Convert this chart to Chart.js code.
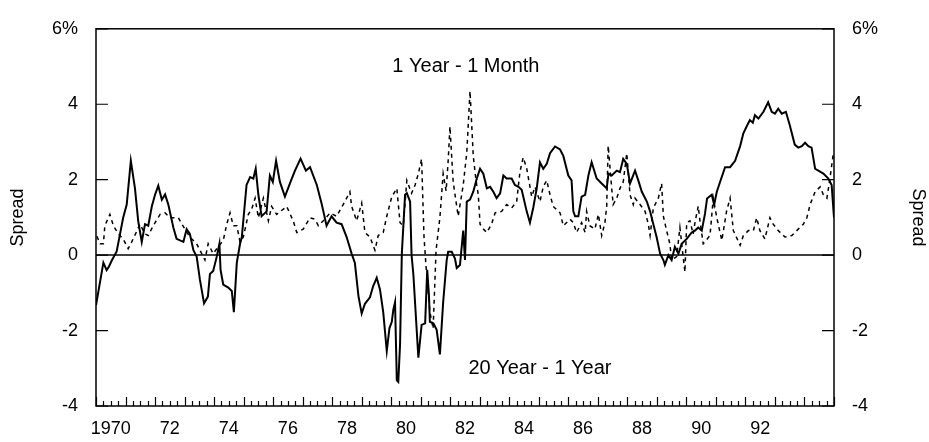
<!DOCTYPE html>
<html>
<head>
<meta charset="utf-8">
<script src="https://cdn.jsdelivr.net/npm/chart.js@4.4.1/dist/chart.umd.min.js"></script>
<style>
  body { margin: 0; background: #fff; }
  canvas { display: block; }
</style>
</head>
<body>
<canvas id="spreadChart" width="929" height="442"></canvas>
<script>
// 20 Year - 1 Year spread (solid)
const longYears = [1970.00,1970.25,1970.36,1970.44,1970.53,1970.70,1970.92,1971.04,1971.18,1971.32,
  1971.43,1971.55,1971.66,1971.77,1971.89,1972.00,1972.11,1972.23,1972.34,1972.45,
  1972.62,1972.73,1972.96,1973.07,1973.18,1973.30,1973.41,1973.52,1973.66,1973.79,
  1973.86,1973.97,1974.09,1974.18,1974.22,1974.31,1974.48,1974.60,1974.67,1974.77,
  1974.88,1974.94,1975.10,1975.22,1975.33,1975.41,1975.50,1975.61,1975.78,1975.89,
  1975.99,1976.10,1976.23,1976.40,1976.57,1976.74,1976.93,1977.11,1977.25,1977.48,
  1977.65,1977.81,1977.98,1978.15,1978.32,1978.49,1978.66,1978.77,1978.89,1979.00,
  1979.11,1979.28,1979.39,1979.51,1979.62,1979.73,1979.85,1979.94,1980.02,1980.07,
  1980.13,1980.19,1980.24,1980.30,1980.36,1980.47,1980.53,1980.64,1980.69,1980.75,
  1980.92,1981.03,1981.15,1981.22,1981.28,1981.31,1981.43,1981.54,1981.65,1981.76,
  1981.88,1981.93,1982.05,1982.16,1982.22,1982.33,1982.44,1982.50,1982.56,1982.67,
  1982.78,1982.90,1983.01,1983.12,1983.24,1983.35,1983.46,1983.57,1983.69,1983.80,
  1983.91,1984.08,1984.19,1984.31,1984.42,1984.59,1984.70,1984.81,1984.93,1985.04,
  1985.15,1985.27,1985.38,1985.55,1985.72,1985.83,1986.00,1986.11,1986.17,1986.23,
  1986.34,1986.45,1986.57,1986.68,1986.79,1986.96,1987.13,1987.30,1987.36,1987.47,
  1987.64,1987.75,1987.86,1987.98,1988.09,1988.26,1988.37,1988.49,1988.66,1988.77,
  1988.88,1988.99,1989.11,1989.22,1989.27,1989.39,1989.50,1989.61,1989.73,1989.84,
  1990.01,1990.18,1990.29,1990.40,1990.52,1990.63,1990.70,1990.86,1990.94,1991.03,
  1991.14,1991.31,1991.48,1991.65,1991.82,1991.93,1992.04,1992.15,1992.25,1992.32,
  1992.44,1992.61,1992.77,1992.89,1993.00,1993.11,1993.23,1993.37,1993.50,1993.67,
  1993.79,1993.91,1994.02,1994.13,1994.24,1994.36,1994.47,1994.64,1994.81,1994.92,
  1995.00];
const longSpread = [-1.33,-0.2,-0.4,-0.3,-0.15,0.1,0.99,1.34,2.5,1.77,
  0.9,0.35,0.82,0.78,1.29,1.6,1.84,1.47,1.61,1.34,
  0.73,0.43,0.35,0.69,0.56,0.13,-0.04,-0.65,-1.28,-1.1,
  -0.5,-0.42,-0.04,0.3,-0.39,-0.78,-0.86,-0.95,-1.51,-0.2,
  0.3,0.48,1.86,2.07,2.03,2.29,1.6,1.03,1.16,2.11,
  1.94,2.5,1.94,1.55,1.9,2.24,2.56,2.24,2.33,1.86,
  1.34,0.78,1.03,0.86,0.82,0.48,0.04,-0.21,-1.08,-1.55,
  -1.29,-1.12,-0.82,-0.6,-0.91,-1.51,-2.54,-1.94,-1.77,-1.46,
  -1.25,-3.32,-3.36,-2.37,0.04,1.6,1.64,1.42,0.0,-0.5,
  -2.72,-1.85,-1.81,-0.39,-1.08,-1.77,-1.81,-1.98,-2.63,-1.25,
  -0.13,0.09,0.09,-0.09,-0.34,-0.26,0.65,-0.13,1.42,1.47,
  1.68,2.03,2.29,2.16,1.77,1.81,1.68,1.51,1.64,2.11,
  2.03,2.03,1.86,1.81,1.73,1.16,0.86,1.25,1.77,2.46,
  2.29,2.42,2.7,2.88,2.8,2.63,2.11,1.98,1.16,1.03,
  1.03,1.55,1.6,2.11,2.46,2.03,1.9,1.77,2.16,2.11,
  2.24,2.2,2.55,2.42,1.9,2.24,1.98,1.68,1.42,1.16,
  0.82,0.48,0.04,-0.13,-0.26,0,-0.13,0.22,0.04,0.3,
  0.43,0.6,0.65,0.73,0.65,1.1,1.5,1.6,1.34,1.68,
  1.94,2.33,2.33,2.5,2.89,3.23,3.41,3.58,3.51,3.71,
  3.62,3.8,4.05,3.8,3.75,3.88,3.75,3.8,3.45,2.93,
  2.85,2.89,2.98,2.89,2.85,2.29,2.24,2.16,2.03,1.86,
  0.99];

// 1 Year - 1 Month spread (dashed)
const shortYears = [1970.03,1970.14,1970.25,1970.30,1970.47,1970.59,1970.76,1970.92,1971.09,1971.21,
  1971.36,1971.49,1971.66,1971.77,1971.94,1972.17,1972.34,1972.51,1972.79,1973.01,
  1973.18,1973.41,1973.58,1973.69,1973.80,1973.97,1974.14,1974.31,1974.43,1974.54,
  1974.65,1974.77,1974.88,1974.99,1975.16,1975.27,1975.39,1975.50,1975.67,1975.84,
  1975.95,1976.12,1976.46,1976.68,1976.80,1977.02,1977.25,1977.42,1977.53,1977.70,
  1977.93,1978.15,1978.43,1978.60,1978.66,1978.83,1979.00,1979.11,1979.28,1979.45,
  1979.56,1979.73,1979.85,1980.02,1980.19,1980.30,1980.41,1980.53,1980.69,1980.81,
  1980.92,1981.03,1981.11,1981.18,1981.31,1981.42,1981.52,1981.65,1981.76,1981.86,
  1981.93,1981.99,1982.05,1982.10,1982.22,1982.27,1982.44,1982.56,1982.67,1982.78,
  1982.87,1982.95,1983.01,1983.12,1983.24,1983.40,1983.52,1983.74,1983.91,1984.08,
  1984.25,1984.36,1984.47,1984.59,1984.76,1984.87,1985.04,1985.15,1985.27,1985.38,
  1985.49,1985.72,1985.83,1986.06,1986.17,1986.28,1986.45,1986.57,1986.62,1986.73,
  1986.90,1987.02,1987.13,1987.24,1987.30,1987.35,1987.47,1987.52,1987.64,1987.75,
  1987.86,1987.98,1988.09,1988.20,1988.26,1988.43,1988.60,1988.71,1988.77,1988.88,
  1989.05,1989.16,1989.22,1989.33,1989.44,1989.50,1989.67,1989.78,1989.89,1989.95,
  1990.01,1990.12,1990.23,1990.29,1990.40,1990.46,1990.57,1990.80,1990.91,1991.03,
  1991.20,1991.36,1991.48,1991.59,1991.82,1991.93,1992.10,1992.27,1992.38,1992.49,
  1992.66,1992.83,1992.94,1993.11,1993.34,1993.57,1993.74,1993.96,1994.08,1994.19,
  1994.36,1994.53,1994.64,1994.76,1994.87,1994.98];
const shortSpread = [0.5,0.3,0.3,0.78,1.08,0.78,0.56,0.43,0.17,0.35,
  0.6,0.82,0.56,0.52,0.78,1.08,1.12,0.99,0.99,0.69,
  0.48,0.3,0.04,-0.13,0.3,0.04,0.22,0.39,0.82,1.12,
  0.78,0.78,0.35,0.48,1.08,1.21,1.51,0.99,1.51,0.91,
  1.29,1.08,1.29,0.91,0.6,0.69,0.99,0.95,0.78,0.91,
  1.12,1.03,1.42,1.68,1.29,0.91,1.38,0.6,0.48,0.13,
  0.52,0.6,1.03,1.55,1.77,0.86,0.78,1.98,1.64,1.86,
  2.16,2.55,0.5,-0.3,-1.5,-1.95,0.13,1.0,2.16,1.7,
  2.5,3.41,2.6,1.94,1.29,1.03,1.86,2.72,4.35,2.63,
  2.0,1.6,0.82,0.69,0.6,0.82,1.12,1.16,1.34,1.25,
  1.42,2.2,2.59,2.3,1.55,1.81,1.42,1.81,1.98,1.6,
  1.29,1.12,0.78,0.95,0.86,0.6,0.86,0.6,1.16,0.78,
  0.69,1.08,0.52,0.86,1.29,2.9,1.77,1.34,1.51,1.77,
  1.94,2.7,1.6,1.34,1.51,1.34,1.16,0.82,0.52,1.25,
  1.51,1.9,1.03,0.65,0.3,-0.13,-0.04,0.73,-0.04,-0.45,
  0.86,0.91,0.56,0.86,1.3,0.91,0.3,0.52,1.51,0.99,
  0.39,1.16,1.51,0.65,0.26,0.52,0.65,0.65,0.99,0.65,
  0.43,0.99,0.82,0.65,0.48,0.52,0.65,0.82,0.99,1.34,
  1.68,1.81,1.6,1.51,2.07,2.72];

const yTickValues = [-4, -2, 0, 2, 4, 6];
const yearLabels = [1970, 1972, 1974, 1976, 1978, 1980, 1982, 1984, 1986, 1988, 1990, 1992];

const FONT = "'Liberation Sans', Arial, Helvetica, sans-serif";

function toPoints(xs, ys) {
  const out = [];
  for (let i = 0; i < Math.min(xs.length, ys.length); i++) out.push({x: xs[i], y: ys[i]});
  return out;
}

function yLabel(v) {
  return v === 6 ? '6%' : String(v);
}

// box, inward ticks, zero line and the two series captions
const framePlugin = {
  id: 'frame',
  beforeDatasetsDraw(chart) {
    const {ctx, chartArea: a, scales} = chart;
    const y0 = scales.y.getPixelForValue(0);
    ctx.save();
    ctx.strokeStyle = '#000';
    ctx.lineWidth = 1.5;
    ctx.beginPath();
    ctx.moveTo(a.left, y0);
    ctx.lineTo(a.right, y0);
    ctx.stroke();
    ctx.restore();
  },
  afterDraw(chart) {
    const {ctx, chartArea: a, scales} = chart;
    ctx.save();
    ctx.strokeStyle = '#000';
    ctx.lineWidth = 1.5;
    ctx.strokeRect(a.left, a.top, a.right - a.left, a.bottom - a.top);

    ctx.lineWidth = 1.2;
    ctx.beginPath();
    scales.x.ticks.forEach(t => {
      const px = Math.round(scales.x.getPixelForValue(t.value)) + 0.5;
      const len = Number.isInteger(t.value) ? 9 : 5;
      ctx.moveTo(px, a.bottom);
      ctx.lineTo(px, a.bottom - len);
    });
    scales.y.ticks.forEach(t => {
      const py = scales.y.getPixelForValue(t.value);
      ctx.moveTo(a.left, py);
      ctx.lineTo(a.left + 12, py);
      ctx.moveTo(a.right, py);
      ctx.lineTo(a.right - 12, py);
    });
    ctx.stroke();

    ctx.fillStyle = '#000';
    ctx.font = '20px ' + FONT;
    ctx.textAlign = 'center';
    ctx.textBaseline = 'middle';
    ctx.fillText('1 Year - 1 Month', scales.x.getPixelForValue(1982.53), scales.y.getPixelForValue(5.0));
    ctx.fillText('20 Year - 1 Year', scales.x.getPixelForValue(1985.04), scales.y.getPixelForValue(-3.0));
    ctx.restore();
  }
};

const yAxisBase = {
  type: 'linear',
  min: -4,
  max: 6,
  afterBuildTicks: (scale) => { scale.ticks = yTickValues.map(v => ({value: v})); },
  grid: { display: false, drawTicks: false },
  border: { display: false },
  ticks: { color: '#000', font: { family: FONT, size: 18 }, callback: yLabel }
};

const config = {
  type: 'line',
  data: {
    datasets: [
      {
        label: '20 Year - 1 Year',
        data: toPoints(longYears, longSpread),
        borderColor: '#000',
        borderWidth: 2,
        pointRadius: 0,
        tension: 0,
        fill: false
      },
      {
        label: '1 Year - 1 Month',
        data: toPoints(shortYears, shortSpread),
        borderColor: '#000',
        borderWidth: 1.5,
        borderDash: [4, 4],
        pointRadius: 0,
        tension: 0,
        fill: false
      }
    ]
  },
  options: {
    responsive: false,
    animation: false,
    devicePixelRatio: 1,
    layout: { padding: { top: 20, left: 0, right: 0, bottom: 0 } },
    plugins: { legend: { display: false }, tooltip: { enabled: false } },
    scales: {
      x: {
        type: 'linear',
        min: 1970,
        max: 1995,
        afterBuildTicks: (scale) => {
          const t = [];
          for (let q = 0; q <= 100; q++) t.push({value: 1970 + q * 0.25});
          scale.ticks = t;
        },
        afterFit: (scale) => { scale.height = 36; },
        grid: { display: false, drawTicks: false },
        border: { display: false },
        ticks: {
          autoSkip: false,
          maxRotation: 0,
          padding: 12,
          color: '#000',
          font: { family: FONT, size: 18 },
          callback: (v) => {
            const yr = v - 0.5;
            if (!yearLabels.includes(yr)) return '';
            return yr === 1970 ? '1970' : String(yr).slice(2);
          }
        }
      },
      y: Object.assign({}, yAxisBase, {
        position: 'left',
        afterFit: (scale) => { scale.width = 96; },
        ticks: Object.assign({}, yAxisBase.ticks, { padding: 18 }),
        title: { display: true, text: 'Spread', color: '#000', font: { family: FONT, size: 18 }, padding: { top: 7, bottom: 0 } }
      }),
      y2: Object.assign({}, yAxisBase, {
        position: 'right',
        afterFit: (scale) => { scale.width = 95; },
        ticks: Object.assign({}, yAxisBase.ticks, { padding: 18 }),
        title: { display: true, text: 'Spread', color: '#000', font: { family: FONT, size: 18 }, padding: { top: 0, bottom: 0 } }
      })
    }
  },
  plugins: [framePlugin]
};

const spreadChart = new Chart(document.getElementById('spreadChart'), config);
</script>
</body>
</html>
